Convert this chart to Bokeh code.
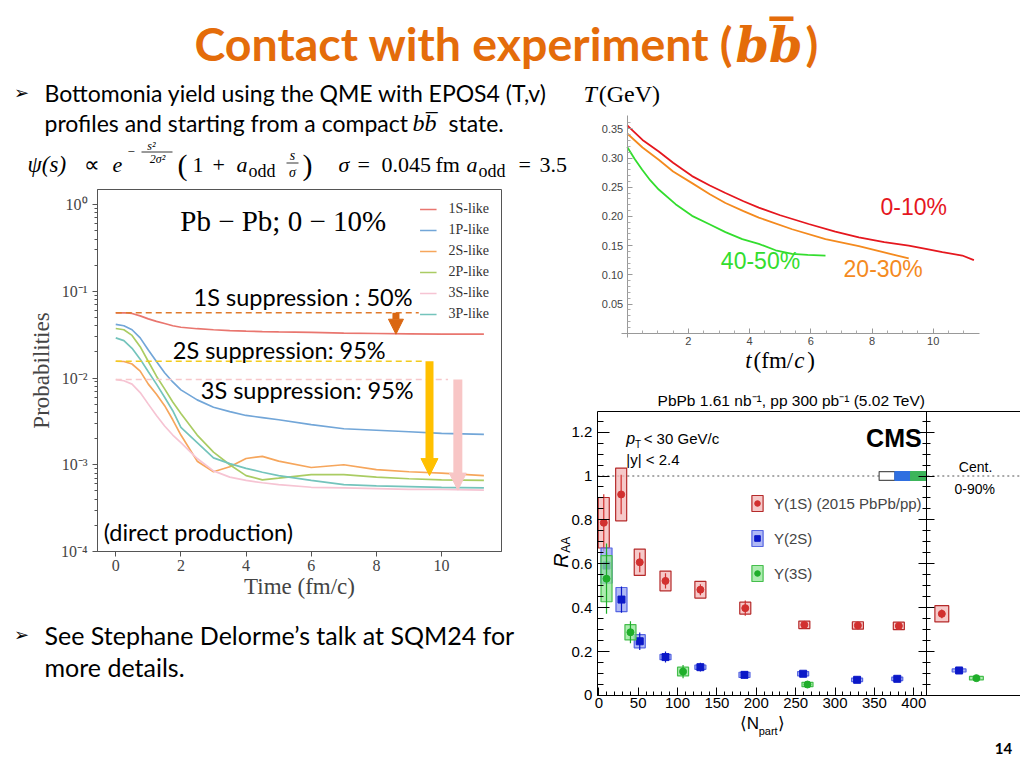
import numpy as np
from bokeh.plotting import figure
from bokeh.models import (Range1d, LinearAxis, Label, Arrow, NormalHead, Legend, LegendItem,
                          GridBox, FixedTicker, SingleIntervalTicker, CustomJSTickFormatter, NumeralTickFormatter)
from bokeh.core.properties import value
from bokeh.embed import file_html
from bokeh.resources import INLINE

# ---------------- left chart: state probabilities vs time ----------------
time_fm = [0, 0.25, 0.5, 0.75, 1.0, 1.25, 1.5, 1.75, 2.0, 2.5, 3.0, 3.5, 4.0, 4.5, 5.0, 6.0, 7.0, 8.0, 9.0, 10.0, 11.3]
prob_1S = [0.0565, 0.0565, 0.0555, 0.052, 0.048, 0.045, 0.0425, 0.040, 0.0385, 0.037, 0.036, 0.0352, 0.0347,
           0.0343, 0.034, 0.0335, 0.033, 0.0326, 0.0323, 0.0321, 0.032]
prob_1P = [0.0415, 0.040, 0.036, 0.029, 0.021, 0.0155, 0.0115, 0.009, 0.0073, 0.0056, 0.0046, 0.0041, 0.0037,
           0.0035, 0.0033, 0.0029, 0.0026, 0.0025, 0.0024, 0.0023, 0.00224]
prob_2S = [0.0156, 0.0155, 0.0145, 0.012, 0.0085, 0.0065, 0.0048, 0.0033, 0.0022, 0.0011, 0.00083, 0.00095,
           0.00118, 0.00125, 0.0011, 0.00093, 0.001, 0.00088, 0.00083, 0.0008, 0.00075]
prob_2P = [0.0372, 0.036, 0.031, 0.023, 0.0155, 0.0105, 0.0075, 0.0053, 0.0039, 0.0022, 0.0014, 0.001, 0.00075,
           0.00067, 0.0007, 0.00077, 0.00077, 0.00072, 0.00069, 0.00067, 0.00066]
prob_3S = [0.0096, 0.0093, 0.0085, 0.0068, 0.005, 0.0037, 0.0028, 0.0022, 0.0018, 0.00118, 0.00085, 0.00072,
           0.00066, 0.00062, 0.00059, 0.00055, 0.00054, 0.00053, 0.00052, 0.00052, 0.00051]
prob_3P = [0.029, 0.027, 0.022, 0.0165, 0.0118, 0.0085, 0.006, 0.0042, 0.0027, 0.0018, 0.0012, 0.00103, 0.00091,
           0.00082, 0.00075, 0.00066, 0.00059, 0.00057, 0.00056, 0.00055, 0.00054]
state_labels = ["1S-like", "1P-like", "2S-like", "2P-like", "3S-like", "3P-like"]
state_colors = ["#E9766F", "#72A6D8", "#F6A65C", "#AACC63", "#F6C4D3", "#74C4BC"]
a_xticks = [0, 2, 4, 6, 8, 10]
a_decades = [-4, -3, -2, -1, 0]

supp_text = ["1S suppression : 50%", "2S suppression: 95%", "3S suppression: 95%"]
dash_end_t = [9.3, 9.5, 10.2]
arrow_t = [8.6, 9.63, 10.5]

# ---------------- top right: temperature profiles ----------------
t_010 = [0, 0.5, 1.03, 1.5, 2.12, 2.7, 3.21, 3.8, 4.3, 5.0, 5.93, 6.8, 7.57, 8.4, 9.2, 9.8, 10.3, 10.95, 11.33]
T_010 = [0.356, 0.331, 0.311, 0.292, 0.269, 0.253, 0.240, 0.226, 0.215, 0.202, 0.187, 0.174, 0.164, 0.156,
         0.150, 0.144, 0.139, 0.133, 0.125]
t_2030 = [0, 0.5, 1.03, 1.5, 2.12, 2.7, 3.21, 3.8, 4.3, 5.39, 6.48, 7.57, 8.2, 8.66, 9.2]
T_2030 = [0.342, 0.318, 0.297, 0.277, 0.257, 0.238, 0.223, 0.209, 0.198, 0.178, 0.161, 0.149, 0.141, 0.135, 0.128]
t_4050 = [0, 0.25, 0.49, 0.75, 1.03, 1.58, 2.12, 2.67, 3.21, 3.76, 4.3, 4.85, 5.39, 5.9, 6.48]
T_4050 = [0.319, 0.298, 0.280, 0.262, 0.246, 0.221, 0.201, 0.187, 0.173, 0.161, 0.153, 0.142, 0.136, 0.134, 0.133]
T_xticks = [2, 4, 6, 8, 10]
T_yticks = [0.05, 0.10, 0.15, 0.20, 0.25, 0.30, 0.35]

# ---------------- bottom right: CMS R_AA ----------------
npart_1S = [6.3, 28.4, 52, 84.7, 129, 186, 261, 329, 381]
raa_1S = [0.787, 0.916, 0.607, 0.522, 0.482, 0.398, 0.322, 0.319, 0.317]
sys_1S = [0.115, 0.12, 0.06, 0.045, 0.038, 0.027, 0.017, 0.017, 0.017]
stat_1S = [0.13, 0.09, 0.045, 0.035, 0.025, 0.035, 0.015, 0.015, 0.015]
npart_2S = [9.8, 28.8, 52, 84.7, 129, 185, 259.5, 328, 379]
raa_2S = [0.592, 0.437, 0.247, 0.175, 0.129, 0.094, 0.099, 0.0715, 0.076]
sys_2S = [0.08, 0.055, 0.03, 0.012, 0.01, 0.012, 0.01, 0.008, 0.008]
stat_2S = [0.06, 0.06, 0.04, 0.025, 0.02, 0.015, 0.012, 0.015, 0.015]
npart_3S = [9.8, 40.2, 107, 265]
raa_3S = [0.532, 0.288, 0.109, 0.05]
sys_3S = [0.105, 0.035, 0.02, 0.01]
stat_3S = [0.16, 0.05, 0.03, 0.012]
cent_pos = [1, 2, 3]
cent_raa = [0.372, 0.114, 0.079]
cent_sys = [0.037, 0.007, 0.008]
cent_stat = [0.02, 0.01, 0.01]
glob_npart = [366, 386, 406]
glob_unc = [0.02, 0.02, 0.02]
npart_ticks = [0, 50, 100, 150, 200, 250, 300, 350, 400]
cms_labels = ["\u03a5(1S) (2015 PbPb/pp)", "\u03a5(2S)", "\u03a5(3S)"]

SANS = "Lato"
SERIF = "Liberation Serif"
ARIAL = "Liberation Sans"
ORANGE = "#E46C0A"
BODY = 23


def txt(p, x, y, s, size, font=SANS, color="black", style="normal", align="left", baseline="middle"):
    p.text(x=[x], y=[y], text=[s], text_font=value(font), text_font_size=value(f"{size}px"),
           text_font_style=style, text_color=color, text_align=align, text_baseline=baseline)


def lab(p, x, y, s, size, font=SANS, color="black", style="normal", align="left", baseline="middle", angle=0,
        xr="default"):
    p.add_layout(Label(x=x, y=y, text=s, text_font=font, text_font_size=f"{size}px", text_font_style=style,
                       text_color=color, text_align=align, text_baseline=baseline, angle=angle, x_range_name=xr))


def noalign(p):
    try:
        p.frame_align = False
    except Exception:
        pass


def text_fig(w, h, ox, oy):
    # canvas in slide pixels: x from ox, y from oy downward
    p = figure(width=w, height=h, x_range=Range1d(ox, ox + w), y_range=Range1d(oy + h, oy), toolbar_location=None,
               output_backend="svg", min_border=0, x_axis_location=None, y_axis_location=None)
    p.grid.visible = False
    p.outline_line_color = None
    noalign(p)
    return p


# ---------------- title ----------------
ptitle = text_fig(1020, 80, 0, 0)
txt(ptitle, 733, 42, "Contact with experiment (", 46.5, style="bold", color=ORANGE, align="right")
txt(ptitle, 735, 44, "bb\u0305", 48, font="DejaVu Serif", style="bold italic", color=ORANGE)
txt(ptitle, 805, 42, ")", 46.5, style="bold", color=ORANGE)

# ---------------- upper-left text ----------------
pl1 = text_fig(575, 104, 0, 80)
txt(pl1, 21, 92, "\u27a2", 18, font="DejaVu Sans", align="center")
txt(pl1, 44, 92, "Bottomonia yield using the QME with EPOS4 (T,v)", BODY)
txt(pl1, 44, 122, "profiles and starting from a compact", BODY)
txt(pl1, 412, 122, "bb\u0305", 24, font=SERIF, style="italic")
txt(pl1, 448, 122, "state.", BODY)
F = 22
SUB = 18
txt(pl1, 27, 164, "\u03c8(s)", F + 1, font=SERIF, style="italic")
txt(pl1, 83, 164, "\u221d", F, font=SERIF)
txt(pl1, 112, 164, "e", F, font=SERIF, style="italic")
txt(pl1, 127, 151, "\u2212", 13, font=SERIF)
txt(pl1, 151, 145, "s\u00b2", 12, font=SERIF, style="italic", align="center")
pl1.segment(x0=[141], y0=[151.5], x1=[172], y1=[151.5], line_color="black", line_width=0.8)
txt(pl1, 157, 158, "2\u03c3\u00b2", 12, font=SERIF, style="italic", align="center")
txt(pl1, 177, 164, "(", 30, font=SERIF)
txt(pl1, 192, 164, "1", F, font=SERIF)
txt(pl1, 212, 164, "+", F, font=SERIF)
txt(pl1, 236, 164, "a", F, font=SERIF, style="italic")
txt(pl1, 248, 170, "odd", SUB, font=SERIF)
txt(pl1, 292, 155, "s", 14, font=SERIF, style="italic", align="center")
pl1.segment(x0=[286], y0=[162.5], x1=[298], y1=[162.5], line_color="black", line_width=0.8)
txt(pl1, 292, 172, "\u03c3", 14, font=SERIF, style="italic", align="center")
txt(pl1, 302, 164, ")", 30, font=SERIF)
txt(pl1, 338, 164, "\u03c3", F, font=SERIF, style="italic")
txt(pl1, 357, 164, "=", F, font=SERIF)
txt(pl1, 381, 164, "0.045", F, font=SERIF)
txt(pl1, 435, 164, "fm", F, font=SERIF)
txt(pl1, 466, 164, "a", F, font=SERIF, style="italic")
txt(pl1, 478, 170, "odd", SUB, font=SERIF)
txt(pl1, 518, 164, "=", F, font=SERIF)
txt(pl1, 539, 164, "3.5", F, font=SERIF)

# ---------------- lower-left text ----------------
pl3 = text_fig(545, 159, 0, 605)
txt(pl3, 21, 634, "\u27a2", 18, font="DejaVu Sans", align="center")
txt(pl3, 44, 634, "See Stephane Delorme\u2019s talk at SQM24 for", 25)
txt(pl3, 44, 666, "more details.", 25)

# ---------------- chart A: probabilities ----------------
pa = figure(width=545, height=421, y_axis_type="log", x_range=Range1d(-0.56, 11.84), y_range=Range1d(1e-4, 1.49),
            toolbar_location=None, output_backend="svg", min_border_left=97, min_border_right=44,
            min_border_top=5, min_border_bottom=54)
noalign(pa)
pa.grid.visible = False
pa.outline_line_color = "#555555"
minor = [m * 10.0 ** d for d in a_decades for m in range(2, 10) if m * 10.0 ** d < 1.49]
pa.yaxis.ticker = FixedTicker(ticks=[10.0 ** d for d in a_decades], minor_ticks=minor)
pa.xaxis.ticker = FixedTicker(ticks=a_xticks)
pa.yaxis.formatter = CustomJSTickFormatter(code="""
const e = Math.round(Math.log10(tick));
const sup = {'-':'\u207b','0':'\u2070','1':'\u00b9','2':'\u00b2','3':'\u00b3','4':'\u2074','5':'\u2075','6':'\u2076','7':'\u2077','8':'\u2078','9':'\u2079'};
return '10' + String(e).split('').map(c => sup[c]).join('');
""")
for ax in (pa.xaxis, pa.yaxis):
    ax.axis_line_color = "#555555"
    ax.major_tick_line_color = "#555555"
    ax.minor_tick_line_color = "#555555"
    ax.major_tick_out = 5
    ax.major_tick_in = 0
    ax.minor_tick_out = 3
    ax.minor_tick_in = 0
    ax.major_label_text_font = SERIF
    ax.major_label_text_font_size = "16px"
    ax.major_label_text_color = "#444444"
    ax.axis_label_text_font = SERIF
    ax.axis_label_text_font_size = "23px"
    ax.axis_label_text_font_style = "normal"
    ax.axis_label_text_color = "#444444"
pa.xaxis.axis_label = "Time (fm/c)"
pa.yaxis.axis_label = "Probabilities"
pa.xaxis.major_label_standoff = 3
pa.xaxis.axis_label_standoff = 0
pa.yaxis.axis_label_standoff = 4

series = [prob_1S, prob_1P, prob_2S, prob_2P, prob_3S, prob_3P]
renderers = []
for vals, col in zip(series, state_colors):
    renderers.append(pa.line(time_fm, vals, line_color=col, line_width=1.7))

supp_series = [prob_1S, prob_2S, prob_3S]
dash_colors = ["#E07A2C", "#F2CB1D", "#F8C8CB"]
arrow_colors = ["#DA6712", "#FFC000", "#F8C6C6"]
arrow_widths = [7, 8, 9]
head_sizes = [15, 17, 17]
for vals, tend, ta, dc, ac, aw, hs in zip(supp_series, dash_end_t, arrow_t, dash_colors, arrow_colors,
                                         arrow_widths, head_sizes):
    pa.line([time_fm[0], tend], [vals[0], vals[0]], line_color=dc, line_width=1.6, line_dash="6 4")
    pa.add_layout(Arrow(end=NormalHead(size=hs, fill_color=ac, line_color=ac), x_start=ta, y_start=vals[0],
                        x_end=ta, y_end=vals[-1], line_color=ac, line_width=aw))

lab(pa, 2.39, 0.0857, supp_text[0], 23.5)
lab(pa, 1.75, 0.0209, supp_text[1], 23.5)
lab(pa, 2.61, 0.00723, supp_text[2], 23.5)
lab(pa, -0.37, 0.00017, "(direct production)", 23.5)
lab(pa, 1.98, 0.64, "Pb \u2212 Pb; 0 \u2212 10%", 29, font=SERIF)

leg = Legend(items=[LegendItem(label=l, renderers=[r]) for l, r in zip(state_labels, renderers)],
             location="top_right", border_line_color=None, background_fill_alpha=0,
             label_text_font=SERIF, label_text_font_size="14px", label_text_color="#333333",
             glyph_width=17, glyph_height=16, label_height=16, spacing=5, padding=0, margin=12,
             label_standoff=12)
pa.add_layout(leg)

# ---------------- chart T: temperature (whole canvas is the frame) ----------------
pt = figure(width=445, height=295, x_range=Range1d(-1.690, 12.853), y_range=Range1d(-0.0724, 0.4327),
            toolbar_location=None, output_backend="svg", min_border=0, x_axis_location=None, y_axis_location=None)
noalign(pt)
pt.grid.visible = False
pt.outline_line_color = None
t_minor = [v for v in np.arange(0.5, 11.5, 0.5) if v not in T_xticks]
T_minor = [round(v, 2) for v in np.arange(0.01, 0.37, 0.01) if round(v, 2) not in T_yticks]
txa = LinearAxis(fixed_location=0, bounds=(-0.2, 11.5), ticker=FixedTicker(ticks=T_xticks, minor_ticks=t_minor))
tya = LinearAxis(fixed_location=0, bounds=(-0.008, 0.372), ticker=FixedTicker(ticks=T_yticks, minor_ticks=T_minor),
                 formatter=NumeralTickFormatter(format="0.00"))
for ax in (txa, tya):
    ax.axis_line_color = "#999999"
    ax.major_tick_line_color = "#999999"
    ax.minor_tick_line_color = "#aaaaaa"
    ax.major_tick_out = 0
    ax.major_tick_in = 5
    ax.minor_tick_out = 0
    ax.minor_tick_in = 3
    ax.major_label_text_font = ARIAL
    ax.major_label_text_font_size = "11px"
    ax.major_label_text_color = "#444444"
    ax.major_label_standoff = 4
pt.add_layout(txa, "below")
pt.add_layout(tya, "left")
pt.line(t_010, T_010, line_color="#E5171E", line_width=1.8)
pt.line(t_2030, T_2030, line_color="#F48A1E", line_width=1.8)
pt.line(t_4050, T_4050, line_color="#33DD2E", line_width=1.8)
lab(pt, 8.28, 0.216, "0-10%", 23, font=ARIAL, color="#E5171E")
lab(pt, 7.07, 0.110, "20-30%", 23, font=ARIAL, color="#F48A1E")
lab(pt, 3.06, 0.123, "40-50%", 23, font=ARIAL, color="#33DD2E")
lab(pt, -1.43, 0.4104, "T", 24, font=SERIF, style="italic")
lab(pt, -0.93, 0.4104, "(GeV)", 24, font=SERIF)
lab(pt, 3.86, -0.0467, "t", 23, font=SERIF, style="italic")
lab(pt, 4.13, -0.0467, "(fm/", 23, font=SERIF)
lab(pt, 5.46, -0.0467, "c", 23, font=SERIF, style="italic")
lab(pt, 5.88, -0.0467, ")", 23, font=SERIF)

# ---------------- chart CMS (whole canvas is the frame, side panel on its own range) ----------------
RED, RED_F, RED_L = "#D2302F", "#F3B7B7", "#B52A2A"
BLU, BLU_F, BLU_L = "#0B18C8", "#96A2F2", "#5565E2"
GRN, GRN_F, GRN_L = "#1FAE2A", "#92E596", "#45BE4C"
BOX_HW = 7
N_LO, N_HI, N_END = -1.9, 416, 535.5
RAA_TOP = 1.294

pc = figure(width=475, height=389, x_range=Range1d(-67.68, N_END), y_range=Range1d(-0.3144, 1.4579),
            extra_x_ranges={"cent": Range1d(-21.91, 5.549)}, toolbar_location=None, output_backend="svg",
            min_border=0, x_axis_location=None, y_axis_location=None)
noalign(pc)
pc.grid.visible = False
pc.outline_line_color = None
yfmt = CustomJSTickFormatter(code="return (Math.round(tick*100)/100).toString();")
n_minor = [v for v in range(0, 411, 10) if v not in npart_ticks]
cy = LinearAxis(fixed_location=N_LO, bounds=(0, RAA_TOP), ticker=SingleIntervalTicker(interval=0.2, num_minor_ticks=4),
                formatter=yfmt, major_tick_in=12, major_tick_out=0, minor_tick_in=6, minor_tick_out=0,
                major_label_standoff=5)
cx = LinearAxis(fixed_location=0, bounds=(N_LO, N_END), ticker=FixedTicker(ticks=npart_ticks, minor_ticks=n_minor),
                major_tick_in=8, major_tick_out=0, minor_tick_in=4, minor_tick_out=0, major_label_standoff=3)
for ax in (cy, cx):
    ax.axis_line_color = "black"
    ax.major_label_text_font = ARIAL
    ax.major_label_text_font_size = "15px"
    ax.major_label_text_color = "black"
pc.add_layout(cy, "left")
pc.add_layout(cx, "below")
pc.add_layout(LinearAxis(fixed_location=RAA_TOP, bounds=(N_LO, N_END), ticker=FixedTicker(ticks=[]),
                         major_tick_in=0, major_tick_out=0, minor_tick_in=0, minor_tick_out=0,
                         axis_line_color="black"), "above")
pc.add_layout(LinearAxis(fixed_location=N_HI, bounds=(0, RAA_TOP),
                         ticker=SingleIntervalTicker(interval=0.2, num_minor_ticks=4),
                         formatter=CustomJSTickFormatter(code="return '';"),
                         major_tick_in=8, major_tick_out=8, minor_tick_in=4, minor_tick_out=4,
                         major_label_standoff=0, axis_line_color="black"), "right")
pc.line([N_LO, N_END], [1, 1], line_color="#555555", line_dash="2 3", line_width=1)


def cms_series(p, x, y, sys, stat, hw, col, fcol, lcol, marker, xr="default"):
    x = np.array(x, float); y = np.array(y, float); sys = np.array(sys, float); stat = np.array(stat, float)
    box = p.quad(left=x - hw, right=x + hw, bottom=y - sys, top=y + sys, fill_color=fcol, fill_alpha=0.75,
                 line_color=lcol, line_width=1.2, x_range_name=xr)
    p.segment(x0=x, y0=y - stat, x1=x, y1=y + stat, line_color=col, line_width=1.2, x_range_name=xr)
    pts = p.scatter(x, y, marker=marker, size=7, fill_color=col, line_color=col, x_range_name=xr)
    return box, pts


b1, m1 = cms_series(pc, npart_1S, raa_1S, sys_1S, stat_1S, BOX_HW, RED, RED_F, RED_L, "circle")
b2, m2 = cms_series(pc, npart_2S, raa_2S, sys_2S, stat_2S, BOX_HW, BLU, BLU_F, BLU_L, "square")
b3, m3 = cms_series(pc, npart_3S, raa_3S, sys_3S, stat_3S, BOX_HW, GRN, GRN_F, GRN_L, "circle")
gx = np.array(glob_npart, float); gu = np.array(glob_unc, float)
pc.quad(left=gx - 10, right=gx + 10, bottom=1 - gu, top=1 + gu, fill_color=["white", "#2F6FE0", "#3CB55A"],
        line_color=["#555555", "#2F6FE0", "#3CB55A"], line_width=1.2)
cms_series(pc, cent_pos[0:1], cent_raa[0:1], cent_sys[0:1], cent_stat[0:1], 0.4, RED, RED_F, RED_L, "circle", "cent")
cms_series(pc, cent_pos[1:2], cent_raa[1:2], cent_sys[1:2], cent_stat[1:2], 0.4, BLU, BLU_F, BLU_L, "square", "cent")
cms_series(pc, cent_pos[2:3], cent_raa[2:3], cent_sys[2:3], cent_stat[2:3], 0.4, GRN, GRN_F, GRN_L, "circle", "cent")

# legend: bottom-left corner in screen px from the canvas bottom-left
cleg = Legend(items=[LegendItem(label=cms_labels[0], renderers=[b1, m1]),
                     LegendItem(label=cms_labels[1], renderers=[b2, m2]),
                     LegendItem(label=cms_labels[2], renderers=[b3, m3])],
              location=(205, 181), border_line_color=None, background_fill_alpha=0,
              label_text_font=ARIAL, label_text_font_size="15px", glyph_width=14, glyph_height=20,
              label_height=20, spacing=15, padding=0, margin=0, label_standoff=10)
pc.add_layout(cleg)

lab(pc, 414.5, 1.344, "PbPb 1.61 nb\u207b\u00b9, pp 300 pb\u207b\u00b9 (5.02 TeV)", 15.5, font=ARIAL, align="right")
lab(pc, 410, 1.175, "CMS", 25, font=ARIAL, style="bold", align="right")
lab(pc, 35, 1.171, "p", 16, font=ARIAL, style="italic")
lab(pc, 46, 1.145, "T", 10, font=ARIAL)
lab(pc, 57, 1.171, "< 30 GeV/c", 15, font=ARIAL)
lab(pc, 35, 1.075, "|y| < 2.4", 15, font=ARIAL)
lab(pc, -48.6, 0.615, "R", 20, font=ARIAL, style="italic", angle=np.pi / 2, align="center")
lab(pc, -42.0, 0.687, "AA", 12, font=ARIAL, angle=np.pi / 2, align="center")
lab(pc, 179, -0.128, "\u27e8N", 17, font=ARIAL)
lab(pc, 203, -0.160, "part", 11, font=ARIAL)
lab(pc, 228, -0.128, "\u27e9", 17, font=ARIAL)
lab(pc, 2.95, 1.039, "Cent.", 14, font=ARIAL, align="center", xr="cent")
lab(pc, 2.9, 0.943, "0-90%", 14, font=ARIAL, align="center", xr="cent")
lab(pc, 4.57, -0.241, "14", 15, font=SANS, style="bold", align="center", xr="cent")

grid = GridBox(children=[(ptitle, 0, 0, 1, 3), (pl1, 1, 0, 1, 2), (pt, 1, 2, 2, 1), (pa, 2, 0, 2, 1),
                         (pc, 3, 1, 2, 2), (pl3, 4, 0, 1, 1)],
               rows=["80px", "104px", "191px", "230px", "159px"], cols=["545px", "30px", "445px"],
               spacing=0)

open("out.html", "w").write(file_html(grid, INLINE))
